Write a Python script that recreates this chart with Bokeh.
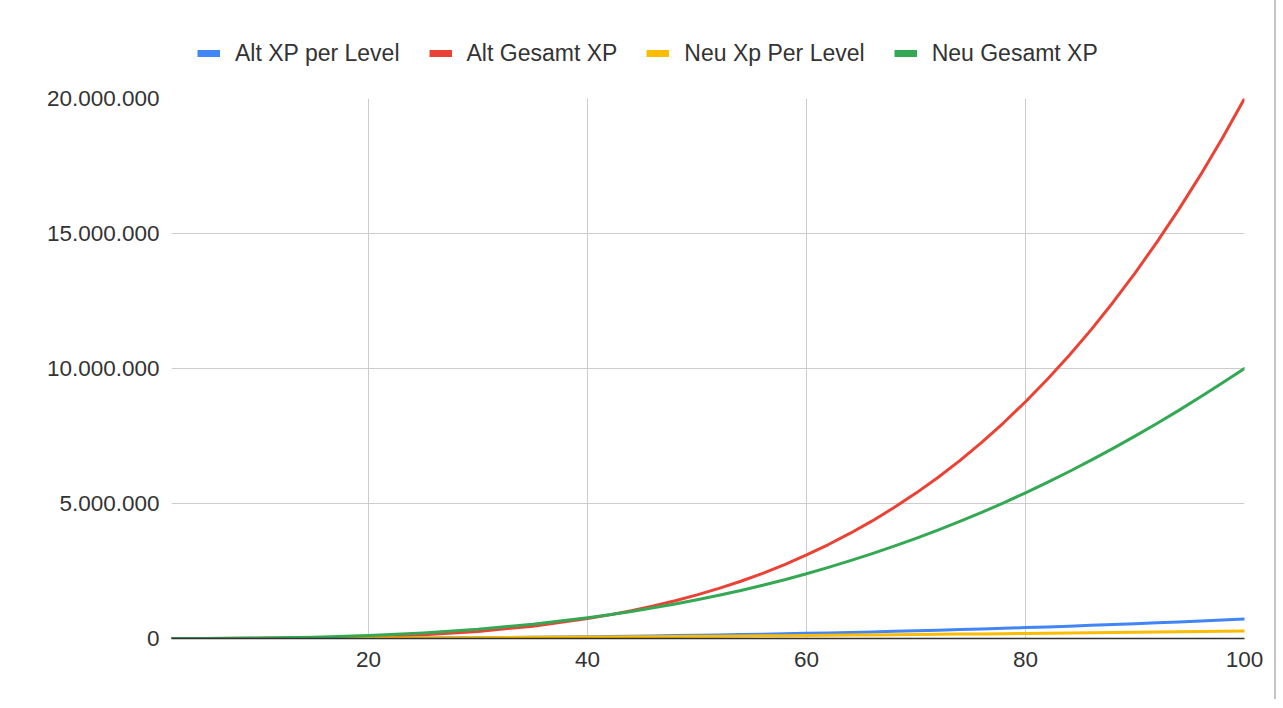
import math
from bokeh.plotting import figure
from bokeh.layouts import column
from bokeh.models import Range1d, Legend, LegendItem, FixedTicker, CustomJSTickFormatter
from bokeh.embed import file_html
from bokeh.resources import INLINE

# ---- data ----
level = [2, 5, 10, 15, 20, 25, 30, 35,
         40, 42, 44, 46, 48, 50, 52, 54, 56, 58, 60, 62, 64, 66, 68, 70,
         72, 74, 76, 78, 80, 82, 84, 86, 88, 90, 92, 94, 96, 98, 100]
alt_per_level = [0, 300, 1800, 5200, 11000, 19600, 31000, 47000,
                 66500, 75500, 85200, 95600, 106800, 118700, 131500, 145100, 159400, 174700,
                 190800, 207800, 225600, 244500, 264100, 284800, 306500, 329100, 352800, 377400,
                 403100, 429700, 457600, 486500, 516500, 547400, 579700, 613000, 647500, 683200, 720000]
alt_gesamt = [0, 400, 5000, 21600, 60800, 136000, 262000, 457000,
              739000, 875000, 1030000, 1205000, 1400000, 1615000, 1855000, 2120000, 2415000, 2740000,
              3095000, 3480000, 3900000, 4355000, 4850000, 5385000, 5965000, 6590000, 7265000, 7990000,
              8770000, 9600000, 10490000, 11440000, 12455000, 13535000, 14680000, 15895000, 17180000,
              18550000, 20000000]
neu_per_level = [0, 1300, 4400, 9200, 15500, 23000, 32000, 42000,
                 53800, 58700, 63900, 69200, 74700, 80400, 86300, 92300, 98600, 105000,
                 111700, 118400, 125400, 132600, 139800, 147300, 155000, 162800, 170900, 179000,
                 187400, 195900, 204600, 213400, 222500, 231600, 241000, 250500, 260200, 270000, 280000]
neu_gesamt = [0, 2300, 15800, 49000, 110000, 206000, 344000, 529000,
              769000, 881000, 1004000, 1137000, 1281000, 1436000, 1603000, 1781000, 1972000, 2176000,
              2400000, 2635000, 2885000, 3145000, 3420000, 3710000, 4015000, 4335000, 4670000, 5025000,
              5395000, 5780000, 6185000, 6605000, 7040000, 7495000, 7965000, 8450000, 8955000,
              9470000, 10000000]

series_names = ["Alt XP per Level", "Alt Gesamt XP", "Neu Xp Per Level", "Neu Gesamt XP"]
series_values = [alt_per_level, alt_gesamt, neu_per_level, neu_gesamt]
series_colors = ["#4285F4", "#EA4335", "#FBBC04", "#34A853"]

x_ticks = [20, 40, 60, 80, 100]
y_ticks = [0, 5000000, 10000000, 15000000, 20000000]

FONT = "Liberation Sans"

# ---------- legend strip ----------
lg = figure(
    width=1274, height=80, min_border=0,
    x_range=Range1d(0, 1), y_range=Range1d(0, 1),
    output_backend="svg", toolbar_location=None,
)
lg.axis.visible = False
lg.grid.visible = False
lg.outline_line_color = None
lg.background_fill_color = "white"
lg.border_fill_color = "white"
lg.styles = {"box-shadow": "2px 0 0 0 #c4c4c4"}

items = []
for name, col in zip(series_names, series_colors):
    r = lg.line([math.nan], [math.nan], line_color=col, line_width=7)
    items.append(LegendItem(label=name, renderers=[r]))

legend = Legend(
    items=items, orientation="horizontal", location=(26, 7),
    background_fill_alpha=0, border_line_alpha=0, padding=0, margin=0,
    spacing=29, label_standoff=15, glyph_width=23, glyph_height=40, label_height=40,
    label_text_font=FONT, label_text_font_size="23px", label_text_color="#333333",
)
lg.add_layout(legend, "center")

# ---------- main chart ----------
p = figure(
    width=1274, height=619,
    frame_width=1073, frame_height=540,
    min_border_left=171, min_border_right=30, min_border_top=18, min_border_bottom=61,
    x_range=Range1d(2, 100), y_range=Range1d(0, 20000000),
    output_backend="svg", toolbar_location=None,
)
p.styles = {"box-shadow": "2px 0 0 0 #c4c4c4"}
p.background_fill_color = "white"
p.border_fill_color = "white"
p.outline_line_color = None

p.xgrid.ticker = FixedTicker(ticks=x_ticks)
p.ygrid.ticker = FixedTicker(ticks=y_ticks)
p.grid.grid_line_color = "#cccccc"
p.grid.grid_line_width = 1

p.xaxis.ticker = FixedTicker(ticks=x_ticks)
p.yaxis.ticker = FixedTicker(ticks=y_ticks)
p.yaxis.formatter = CustomJSTickFormatter(
    code="return Math.round(tick).toString().replace(/\\B(?=(\\d{3})+(?!\\d))/g, '.');")
for ax in (p.xaxis, p.yaxis):
    ax.major_tick_line_color = None
    ax.minor_tick_line_color = None
    ax.major_tick_out = 0
    ax.major_tick_in = 0
    ax.minor_tick_out = 0
    ax.major_label_text_font = FONT
    ax.major_label_text_font_size = "22.5px"
    ax.major_label_text_color = "#333333"
p.yaxis.axis_line_color = None
p.xaxis.axis_line_color = "#333333"
p.xaxis.axis_line_width = 1.5
p.yaxis.major_label_standoff = 12
p.xaxis.major_label_standoff = 13

for vals, col in zip(series_values, series_colors):
    p.line(level, vals, line_color=col, line_width=3, line_join="round", line_cap="round")

layout = column(lg, p, spacing=0)
open("out.html", "w").write(file_html(layout, INLINE))
